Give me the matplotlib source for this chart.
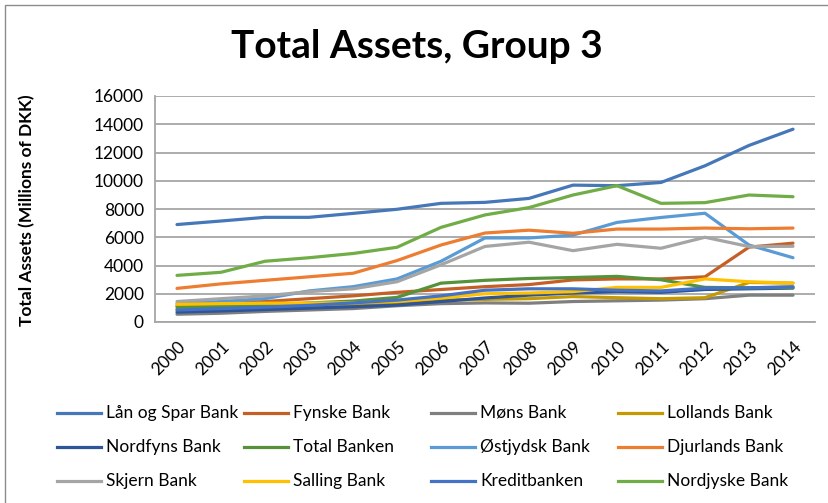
import matplotlib
matplotlib.use("Agg")
import matplotlib.pyplot as plt
from matplotlib.patches import Rectangle
from matplotlib.lines import Line2D

years = [str(y) for y in range(2000, 2015)]

lan_og_spar = [6900, 7150, 7410, 7410, 7690, 7980, 8400, 8470, 8750, 9690, 9650, 9880, 11060, 12500, 13650]
fynske = [1150, 1300, 1450, 1650, 1850, 2100, 2300, 2500, 2650, 2980, 3050, 3050, 3200, 5300, 5580]
mons = [550, 620, 750, 850, 950, 1150, 1300, 1350, 1330, 1450, 1500, 1550, 1650, 1900, 1900]
lollands = [900, 950, 1050, 1120, 1200, 1320, 1550, 1600, 1650, 1800, 1720, 1650, 1720, 2800, 2750]
nordfyns = [700, 780, 880, 980, 1080, 1200, 1450, 1700, 1900, 2050, 2150, 2100, 2300, 2350, 2400]
total_banken = [1050, 1100, 1200, 1350, 1480, 1740, 2750, 2950, 3080, 3150, 3230, 2990, 2450, 2420, 2450]
ostjydsk = [1300, 1450, 1650, 2200, 2500, 3050, 4300, 5950, 5950, 6150, 7050, 7400, 7700, 5450, 4550]
djurlands = [2380, 2700, 2950, 3200, 3450, 4350, 5450, 6300, 6500, 6280, 6580, 6580, 6650, 6600, 6650]
skjern = [1450, 1650, 1850, 2150, 2350, 2850, 4050, 5350, 5650, 5050, 5500, 5220, 6000, 5340, 5360]
salling = [1250, 1300, 1330, 1340, 1360, 1460, 1700, 2000, 2050, 2150, 2450, 2450, 3050, 2850, 2750]
kreditbanken = [850, 950, 1050, 1180, 1350, 1550, 1850, 2250, 2350, 2350, 2250, 2200, 2400, 2420, 2500]
nordjyske = [3300, 3520, 4300, 4550, 4850, 5290, 6700, 7580, 8100, 8990, 9650, 8400, 8450, 8990, 8870]

names = ["Lån og Spar Bank", "Fynske Bank", "Møns Bank", "Lollands Bank",
         "Nordfyns Bank", "Total Banken", "Østjydsk Bank", "Djurlands Bank",
         "Skjern Bank", "Salling Bank", "Kreditbanken", "Nordjyske Bank"]
series = [lan_og_spar, fynske, mons, lollands, nordfyns, total_banken,
          ostjydsk, djurlands, skjern, salling, kreditbanken, nordjyske]
colors = ["#4677B8", "#C65F25", "#7F7F7F", "#C49A00", "#2E5597", "#55923A",
          "#5B9BD5", "#ED7D31", "#A5A5A5", "#FFC000", "#4472C4", "#70AD47"]

yticks = [0, 2000, 4000, 6000, 8000, 10000, 12000, 14000, 16000]

plt.rcParams['font.family'] = ['Lato', 'DejaVu Sans']

W, H = 829, 503
fig = plt.figure(figsize=(W / 100, H / 100), dpi=100)

# chart area border
fig.patches.append(Rectangle((5 / W, -0.1), 1.2, (H - 5) / H + 0.1, transform=fig.transFigure,
                             fill=False, edgecolor="#8C8C8C", linewidth=1.0))

ax = fig.add_axes([155 / W, 1 - 322 / H, (815 - 155) / W, (322 - 96) / H])
x = list(range(len(years)))
for s, c in zip(series, colors):
    ax.plot(x, s, color=c, linewidth=2.3, solid_capstyle='round', solid_joinstyle='round')

ax.set_xlim(-0.5, len(years) - 0.5)
ax.set_ylim(0, 16000)
ax.set_yticks(yticks)
ax.set_yticklabels([str(v) for v in yticks], fontsize=12.5, color="#000000")
ax.set_xticks(x)
ax.set_xticklabels(years, fontsize=12.5, rotation=45, ha='right', va='top', rotation_mode='anchor')
ax.tick_params(axis='both', length=0, pad=8)
ax.tick_params(axis='x', pad=12)
ax.grid(axis='y', color="#A6A6A6", linewidth=1.3)
ax.set_axisbelow(True)
for sp in ['top', 'right']:
    ax.spines[sp].set_visible(False)
ax.spines['left'].set_color("#A6A6A6")
ax.spines['bottom'].set_color("#A6A6A6")
ax.spines['left'].set_linewidth(1.3)
ax.spines['bottom'].set_linewidth(1.3)

fig.text(417 / W, 1 - 47 / H, "Total Assets, Group 3", ha='center', va='center',
         fontsize=28, fontweight='bold')
fig.text(27 / W, 1 - 210 / H, "Total Assets (Millions of DKK)", ha='center', va='center',
         rotation=90, fontsize=12.5, fontweight='bold')

# legend: 3 rows x 4 equally spaced columns, row-major order
col_x = [57, 244, 431, 618]
row_y = [413, 447, 481]
for k, (name, c) in enumerate(zip(names, colors)):
    r, cidx = divmod(k, 4)
    x0 = col_x[cidx]
    y0 = 1 - row_y[r] / H
    fig.lines.append(Line2D([x0 / W, (x0 + 44) / W], [y0, y0], transform=fig.transFigure,
                            color=c, linewidth=2.3))
    fig.text((x0 + 49) / W, y0, name, ha='left', va='center', fontsize=12.5)

fig.savefig("out.png", dpi=100)
